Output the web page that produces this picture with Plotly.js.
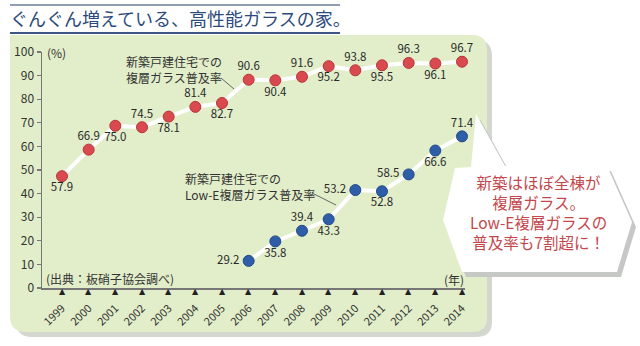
<!DOCTYPE html>
<html>
<head>
<meta charset="utf-8">
<script src="https://cdn.plot.ly/plotly-3.0.1.min.js"></script>
<style>
html,body{margin:0;padding:0;background:#fff;}
#chart{width:640px;height:346px;}
</style>
</head>
<body>
<div id="chart"></div>
<script>
// ---- data ----
const years = [1999,2000,2001,2002,2003,2004,2005,2006,2007,2008,2009,2010,2011,2012,2013,2014];
const multiGlazing = [57.9,66.9,75.0,74.5,78.1,81.4,82.7,90.6,90.4,91.6,95.2,93.8,95.5,96.3,96.1,96.7];
const multiLabelPos = ['bottom center','top center','bottom center','top center','bottom center','top center','bottom center','top center','bottom center','top center','bottom center','top center','bottom center','top center','bottom center','top center'];
const lowEYears = [2006,2007,2008,2009,2010,2011,2012,2013,2014];
const lowEGlazing = [29.2,35.8,39.4,43.3,53.2,52.8,58.5,66.6,71.4];
const lowELabelPos = ['middle left','bottom center','top center','bottom center','middle left','bottom center','middle left','bottom center','top center'];
const yTickVals = [20,28,36,44,52,60,68,76,84,92,100];
const yTickText = ['0','10','20','30','40','50','60','70','80','90','100'];
const yearLabels = years.map(String);

// ---- geometry helpers (pixel -> paper) ----
const L = 42, R = 465, T = 52, B = 288;
const W = 640, H = 346;
const X = px => (px - L) / (R - L);
const Y = py => (B - py) / (B - T);
const P = pts => 'M ' + pts.map(p => X(p[0]).toFixed(4) + ',' + Y(p[1]).toFixed(4)).join(' L ') + ' Z';

const FONT = 'Noto Sans CJK JP, Noto Sans, sans-serif';

function seriesTraces(xs, ys, pos, fill, edge) {
  return [
    {
      x: xs, y: ys, type: 'scatter', mode: 'lines+markers',
      line: {color: '#ffffff', width: 4},
      marker: {size: 11, color: fill, line: {color: edge, width: 1}},
      cliponaxis: false, showlegend: false, hoverinfo: 'skip'
    },
    {
      x: xs, y: ys, type: 'scatter', mode: 'markers+text',
      marker: {size: 9, color: 'rgba(0,0,0,0)'},
      text: ys.map((v, i) => pos[i] === 'middle left' ? v.toFixed(1) + ' ' : v.toFixed(1)),
      textposition: pos,
      textfont: {family: FONT, size: 11.5, color: '#2a2a2a'},
      cliponaxis: false, showlegend: false, hoverinfo: 'skip'
    }
  ];
}

const traces = [].concat(
  seriesTraces(years, multiGlazing, multiLabelPos, '#d94a4f', '#b83338'),
  seriesTraces(lowEYears, lowEGlazing, lowELabelPos, '#2f5ea8', '#22488a')
);

const panel = 'M ' + X(10) + ',' + Y(35) + ' L ' + X(472) + ',' + Y(35) +
  ' Q ' + X(487) + ',' + Y(35) + ' ' + X(487) + ',' + Y(50) +
  ' L ' + X(487) + ',' + Y(318) +
  ' Q ' + X(487) + ',' + Y(332) + ' ' + X(472) + ',' + Y(332) +
  ' L ' + X(26) + ',' + Y(332) +
  ' Q ' + X(10) + ',' + Y(332) + ' ' + X(10) + ',' + Y(316) + ' Z';
const panelShadow = 'M ' + X(16) + ',' + Y(40) + ' L ' + X(476) + ',' + Y(40) +
  ' Q ' + X(492) + ',' + Y(40) + ' ' + X(492) + ',' + Y(56) +
  ' L ' + X(492) + ',' + Y(322) +
  ' Q ' + X(492) + ',' + Y(337) + ' ' + X(476) + ',' + Y(337) +
  ' L ' + X(32) + ',' + Y(337) +
  ' Q ' + X(16) + ',' + Y(337) + ' ' + X(16) + ',' + Y(321) + ' Z';

const bubble = [[455,168],[471,167],[476,114],[505,166],[607,166],[632,222],[617,272],[462,272],[443,220]];
const bubbleShadow = bubble.map(p => [p[0] + 4, p[1] + 5]);

const shapes = [
  {type: 'path', xref: 'paper', yref: 'paper', path: panelShadow, fillcolor: '#d3d7d0', line: {width: 0}, layer: 'below'},
  {type: 'path', xref: 'paper', yref: 'paper', path: panel, fillcolor: '#e2eec9', line: {width: 0}, layer: 'below'},
  {type: 'line', xref: 'paper', yref: 'paper', x0: X(10), x1: X(340), y0: Y(5), y1: Y(5), line: {color: '#6d7c98', width: 1.5}},
  {type: 'line', xref: 'paper', yref: 'paper', x0: X(10), x1: X(340), y0: Y(33), y1: Y(33), line: {color: '#3d5683', width: 2}},
  {type: 'line', xref: 'paper', yref: 'paper', x0: X(221), x1: X(234), y0: Y(78), y1: Y(89), line: {color: '#666', width: 1}},
  {type: 'line', xref: 'paper', yref: 'paper', x0: X(312), x1: X(336), y0: Y(193), y1: Y(205), line: {color: '#666', width: 1}},
  {type: 'path', xref: 'paper', yref: 'paper', path: P(bubbleShadow), fillcolor: '#c6c8c6', line: {width: 0}, layer: 'above'},
  {type: 'path', xref: 'paper', yref: 'paper', path: P(bubble), fillcolor: '#ffffff', line: {width: 0}, layer: 'above'}
];

const ann = (px, py, text, opts) => Object.assign({
  xref: 'paper', yref: 'paper', x: X(px), y: Y(py), text: text, showarrow: false,
  font: {family: FONT, size: 12, color: '#333'}, xanchor: 'left', yanchor: 'middle', align: 'left'
}, opts || {});

const annotations = [
  ann(45, 52, '(%)'),
  ann(466, 279, '(年)', {xanchor: 'right'}),
  ann(44, 278, '(出典：板硝子協会調べ)'),
  ann(124, 69, '新築戸建住宅での<br>複層ガラス普及率'),
  ann(183, 186, '新築戸建住宅での<br>Low-E複層ガラス普及率'),
  ann(538, 212, '新築はほぼ全棟が<br>複層ガラス。<br>Low-E複層ガラスの<br>普及率も7割超に！',
      {xanchor: 'center', align: 'center', font: {family: FONT, size: 15.5, color: '#c4474c'}})
].concat(years.map(yr => ({
  xref: 'x', yref: 'paper', x: yr, y: Y(291.5), text: '▲', showarrow: false,
  font: {family: 'DejaVu Sans, sans-serif', size: 8, color: '#222'}, xanchor: 'center', yanchor: 'middle'
})));

const layout = {
  width: W, height: H,
  margin: {l: L, r: W - R, t: T, b: H - B, pad: 0},
  paper_bgcolor: '#ffffff', plot_bgcolor: 'rgba(0,0,0,0)',
  title: {
    text: 'ぐんぐん増えている、高性能ガラスの家。',
    font: {family: FONT, size: 18, color: '#2c4a7c'},
    xref: 'container', yref: 'container', x: 10 / W, xanchor: 'left', y: 1 - 20 / H, yanchor: 'middle'
  },
  xaxis: {
    range: [1998.25, 2014.1125], showgrid: false, zeroline: false,
    showline: true, linecolor: '#777', linewidth: 1.5,
    tickvals: years, ticktext: yearLabels, tickangle: -45, ticks: '',
    tickfont: {family: FONT, size: 11, color: '#333'}, ticklabelstandoff: 8
  },
  yaxis: {
    range: [20, 100], showgrid: false, zeroline: false,
    showline: true, linecolor: '#777', linewidth: 1.5,
    tickvals: yTickVals, ticktext: yTickText, ticks: 'outside', ticklen: 4, tickcolor: '#777', tickwidth: 1.2,
    tickfont: {family: FONT, size: 12, color: '#333'}
  },
  shapes: shapes,
  annotations: annotations,
  showlegend: false
};

Plotly.newPlot('chart', traces, layout, {displayModeBar: false, staticPlot: true});
</script>
</body>
</html>
